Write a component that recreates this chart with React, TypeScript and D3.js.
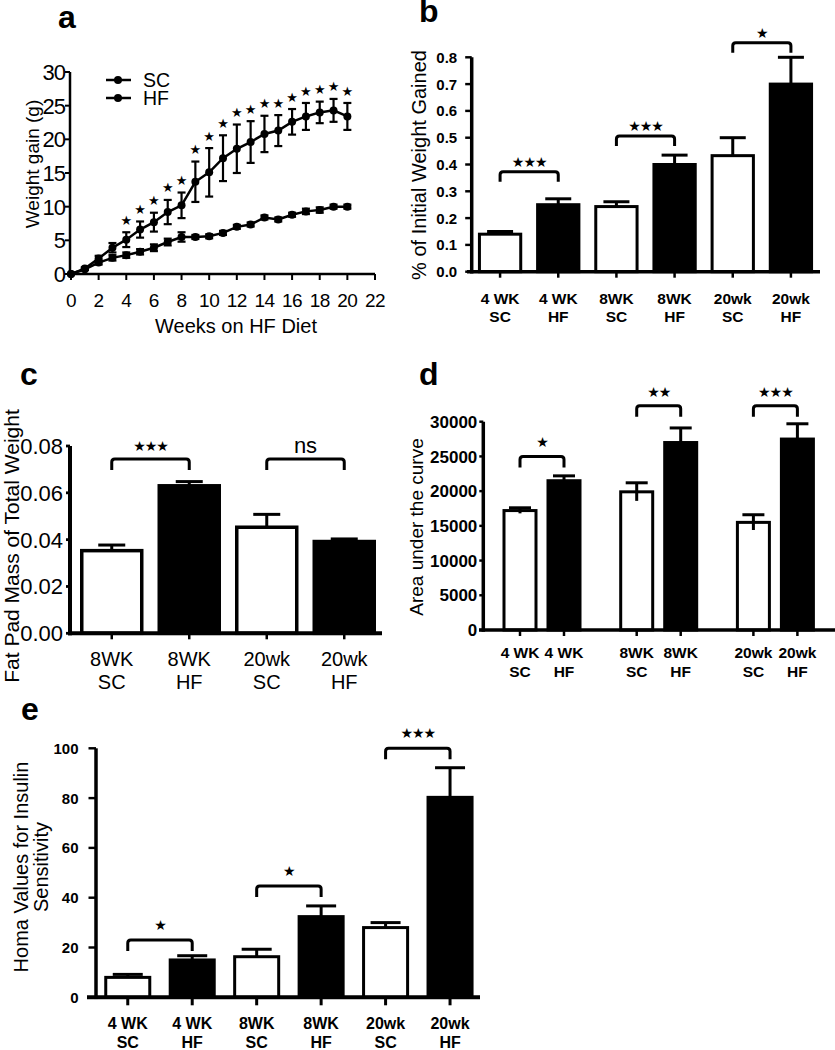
import React from "react";
import * as d3 from "d3";

const FONT = "'Liberation Sans', Arial, Helvetica, sans-serif";
const STAR_FONT = "'DejaVu Sans', sans-serif";

// ---------- Panel a data ----------
const weeks = [0, 1, 2, 3, 4, 5, 6, 7, 8, 9, 10, 11, 12, 13, 14, 15, 16, 17, 18, 19, 20];
const scMean = [0, 0.7, 1.7, 2.4, 2.8, 3.3, 3.9, 4.75, 5.5, 5.5, 5.6, 6.1, 7.0, 7.35, 8.4, 8.1, 8.8, 9.3, 9.5, 10.0, 10.0];
const scErr = [0, 0.1, 0.3, 0.4, 0.4, 0.4, 0.5, 0.5, 0.7, 0.3, 0.3, 0.3, 0.3, 0.3, 0.3, 0.3, 0.3, 0.4, 0.4, 0.3, 0.3];
const hfMean = [0, 0.8, 2.3, 3.9, 5.1, 6.6, 7.7, 9.2, 10.2, 13.7, 15.1, 17.2, 18.6, 19.6, 20.8, 21.3, 22.6, 23.4, 24.0, 24.3, 23.4];
const hfErr = [0, 0.2, 0.4, 0.7, 1.1, 1.2, 1.4, 1.8, 1.9, 3.0, 3.6, 3.4, 3.6, 3.1, 2.7, 2.3, 1.9, 2.0, 1.6, 1.7, 2.0];
const starWeeks = [4, 5, 6, 7, 8, 9, 10, 11, 12, 13, 14, 15, 16, 17, 18, 19, 20];
const aYTicks = [0, 5, 10, 15, 20, 25, 30];
const aXTicks = [0, 2, 4, 6, 8, 10, 12, 14, 16, 18, 20, 22];
const legendItems = ["SC", "HF"];

// ---------- Shared categories ----------
const sixLine1 = ["4 WK", "4 WK", "8WK", "8WK", "20wk", "20wk"];
const sixLine2 = ["SC", "HF", "SC", "HF", "SC", "HF"];

// ---------- Panel b ----------
const bValues = [0.14, 0.25, 0.243, 0.4, 0.433, 0.7];
const bErrs = [0.01, 0.022, 0.018, 0.035, 0.067, 0.1];
const bTicks = [0, 0.1, 0.2, 0.3, 0.4, 0.5, 0.6, 0.7, 0.8];
const bBrackets: [number, number, string, number][] = [
  [0, 1, "***", 0.373],
  [2, 3, "***", 0.506],
  [4, 5, "*", 0.854],
];

// ---------- Panel c ----------
const cLine1 = ["8WK", "8WK", "20wk", "20wk"];
const cLine2 = ["SC", "HF", "SC", "HF"];
const cValues = [0.0353, 0.063, 0.0453, 0.0392];
const cErrs = [0.0024, 0.0018, 0.0055, 0.0011];
const cTicks = [0, 0.02, 0.04, 0.06, 0.08];
const cBrackets: [number, number, string, number][] = [
  [0, 1, "***", 0.0744],
  [2, 3, "ns", 0.0744],
];

// ---------- Panel d ----------
const dGroups = ["4 WK", "8WK", "20wk"];
const dSub = ["SC", "HF"];
const dSC = [17200, 19900, 15500];
const dSCErr = [400, 1300, 1100];
const dHF = [21500, 27000, 27500];
const dHFErr = [700, 2100, 2200];
const dTicks = [0, 5000, 10000, 15000, 20000, 25000, 30000];
const dBrackets: [number, string, number][] = [
  [0, "*", 25000],
  [1, "**", 32300],
  [2, "***", 32300],
];

// ---------- Panel e ----------
const eValues = [8.0, 15.0, 16.3, 32.4, 28.0, 80.3];
const eErrs = [1.2, 1.7, 3.0, 4.3, 2.0, 11.9];
const eTicks = [0, 20, 40, 60, 80, 100];
const eBrackets: [number, number, string, number][] = [
  [0, 1, "*", 23],
  [2, 3, "*", 44.7],
  [4, 5, "***", 100],
];

// ---------- helpers ----------
function YAxis(props: {
  x: number; y: d3.ScaleLinear<number, number>; ticks: number[]; fmt: (n: number) => string;
  tickLen: number; gap: number; fontSize: number; bold?: boolean; sw: number; ls?: number;
}) {
  const { x, y, ticks, fmt, tickLen, gap, fontSize, bold, sw, ls } = props;
  const dom = y.domain();
  return (
    <g>
      <line x1={x} x2={x} y1={y(dom[0]) + sw / 2} y2={y(dom[1])} stroke="#000" strokeWidth={sw} />
      {ticks.map((t) => (
        <g key={t}>
          <line x1={x - tickLen} x2={x} y1={y(t)} y2={y(t)} stroke="#000" strokeWidth={Math.max(2, sw * 0.7)} />
          <text x={x - tickLen - gap} y={y(t)} dy="0.36em" textAnchor="end" fontSize={fontSize}
            letterSpacing={ls || 0} fontWeight={bold ? "bold" : "normal"}>{fmt(t)}</text>
        </g>
      ))}
    </g>
  );
}

function XLabels(props: { centers: number[]; l1: string[]; l2: string[]; b1: number; b2: number; fontSize: number; bold?: boolean; axisY: number; tickLen: number; sw: number }) {
  const { centers, l1, l2, b1, b2, fontSize, bold, axisY, tickLen, sw } = props;
  return (
    <g>
      {centers.map((c, i) => (
        <g key={i}>
          <line x1={c} x2={c} y1={axisY} y2={axisY + tickLen} stroke="#000" strokeWidth={sw} />
          <text x={c} y={b1} textAnchor="middle" fontSize={fontSize} fontWeight={bold ? "bold" : "normal"}>{l1[i]}</text>
          <text x={c} y={b2} textAnchor="middle" fontSize={fontSize} fontWeight={bold ? "bold" : "normal"}>{l2[i]}</text>
        </g>
      ))}
    </g>
  );
}

function Bars(props: {
  centers: number[]; width: number; values: number[]; errs: number[]; fills: string[];
  y: d3.ScaleLinear<number, number>; capW: number; twoSided?: boolean; sw: number;
}) {
  const { centers, width, values, errs, fills, y, capW, twoSided, sw } = props;
  const y0 = y(0);
  return (
    <g>
      {centers.map((c, i) => {
        const top = y(values[i]);
        const et = y(values[i] + errs[i]);
        const eb = twoSided ? y(values[i] - errs[i]) : top;
        return (
          <g key={i}>
            <line x1={c} x2={c} y1={et} y2={eb} stroke="#000" strokeWidth={3} />
            <line x1={c - capW / 2} x2={c + capW / 2} y1={et} y2={et} stroke="#000" strokeWidth={3} />
            {twoSided && <line x1={c - capW / 2} x2={c + capW / 2} y1={eb} y2={eb} stroke="#000" strokeWidth={3} />}
            <rect x={c - width / 2} y={top} width={width} height={y0 - top} fill={fills[i]} stroke="#000" strokeWidth={sw} />
            {twoSided && fills[i] !== "#000" && (
              <line x1={c} x2={c} y1={top} y2={eb} stroke="#000" strokeWidth={3} />
            )}
          </g>
        );
      })}
    </g>
  );
}

function Bracket(props: { x1: number; x2: number; y: number; leg: number; label: string; labelOffset: number }) {
  const { x1, x2, y, leg, label, labelOffset } = props;
  const r = 3;
  const d = `M${x1},${y + leg} L${x1},${y + r} Q${x1},${y} ${x1 + r},${y} L${x2 - r},${y} Q${x2},${y} ${x2},${y + r} L${x2},${y + leg}`;
  const isStar = label.indexOf("*") >= 0;
  return (
    <g>
      <path d={d} fill="none" stroke="#000" strokeWidth={3} />
      {isStar ? (
        <text x={(x1 + x2) / 2} y={y - labelOffset} dy="0.35em" textAnchor="middle" fontSize={14}
          fontFamily={STAR_FONT} letterSpacing={-1}>{label.replace(/\*/g, "\u2605")}</text>
      ) : (
        <text x={(x1 + x2) / 2} y={y - labelOffset} dy="0.3em" textAnchor="middle" fontSize={22}>{label}</text>
      )}
    </g>
  );
}

function PanelLetter({ x, y, t }: { x: number; y: number; t: string }) {
  return <text x={x} y={y} fontSize={32} fontWeight="bold">{t}</text>;
}

// ---------- Panel a ----------
function PanelA() {
  const x = d3.scaleLinear().domain([0, 22]).range([71, 375]);
  const y = d3.scaleLinear().domain([0, 30]).range([274, 72]);
  const line = d3.line<number>().x((_, i) => x(weeks[i])).y((d) => y(d));
  const series = [
    { name: "SC", mean: scMean, err: scErr },
    { name: "HF", mean: hfMean, err: hfErr },
  ];
  return (
    <g>
      <PanelLetter x={58} y={28} t="a" />
      <YAxis x={x(0) - 1} y={y} ticks={aYTicks} fmt={(n) => String(n)} tickLen={5} gap={0} fontSize={22} ls={-1} sw={2.5} />
      <line x1={x(0) - 1} x2={x(22)} y1={y(0)} y2={y(0)} stroke="#000" strokeWidth={2.5} />
      {aXTicks.map((t) => (
        <g key={t}>
          <line x1={x(t)} x2={x(t)} y1={y(0)} y2={y(0) + 6} stroke="#000" strokeWidth={2} />
          <text x={x(t)} y={307} textAnchor="middle" fontSize={19} letterSpacing={-0.5}>{t}</text>
        </g>
      ))}
      <text x={236} y={333} textAnchor="middle" fontSize={20}>Weeks on HF Diet</text>
      <text transform="translate(39,164) rotate(-90)" textAnchor="middle" fontSize={19}>Weight gain (g)</text>
      {series.map((s) => (
        <g key={s.name}>
          <path d={line(s.mean) || ""} fill="none" stroke="#000" strokeWidth={2.5} />
          {s.mean.map((m, i) => (
            <g key={i}>
              {s.err[i] > 0 && (
                <g>
                  <line x1={x(weeks[i])} x2={x(weeks[i])} y1={y(m + s.err[i])} y2={y(m - s.err[i])} stroke="#000" strokeWidth={2.2} />
                  <line x1={x(weeks[i]) - 4} x2={x(weeks[i]) + 4} y1={y(m + s.err[i])} y2={y(m + s.err[i])} stroke="#000" strokeWidth={2.2} />
                  <line x1={x(weeks[i]) - 4} x2={x(weeks[i]) + 4} y1={y(m - s.err[i])} y2={y(m - s.err[i])} stroke="#000" strokeWidth={2.2} />
                </g>
              )}
              <circle cx={x(weeks[i])} cy={y(m)} r={4} fill="#000" />
            </g>
          ))}
        </g>
      ))}
      {starWeeks.map((w) => (
        <text key={w} x={x(w)} y={y(hfMean[w] + hfErr[w]) - 12} dy="0.35em" textAnchor="middle"
          fontSize={13} fontFamily={STAR_FONT}>{"\u2605"}</text>
      ))}
      {legendItems.map((name, i) => {
        const ly = 80 + i * 18;
        return (
          <g key={name}>
            <line x1={106} x2={131} y1={ly} y2={ly} stroke="#000" strokeWidth={2.5} />
            <circle cx={118} cy={ly} r={4} fill="#000" />
            <text x={143} y={ly} dy="0.36em" fontSize={19.5}>{name}</text>
          </g>
        );
      })}
    </g>
  );
}

// ---------- Panel b ----------
function PanelB() {
  const xb = d3.scaleBand<number>().domain(d3.range(6)).range([471, 820]).paddingInner(0.29).paddingOuter(0.145);
  const y = d3.scaleLinear().domain([0, 0.8]).range([271.7, 57.3]);
  const centers = d3.range(6).map((i) => (xb(i) as number) + xb.bandwidth() / 2);
  const fills = sixLine2.map((s) => (s === "SC" ? "#fff" : "#000"));
  return (
    <g>
      <PanelLetter x={419} y={22} t="b" />
      <text transform="translate(426,165) rotate(-90)" textAnchor="middle" fontSize={20}>% of Initial Weight Gained</text>
      <Bars centers={centers} width={xb.bandwidth()} values={bValues} errs={bErrs} fills={fills} y={y} capW={26} sw={3} />
      <YAxis x={471.7} y={y} ticks={bTicks} fmt={d3.format(".1f")} tickLen={6.5} gap={8} fontSize={15} bold sw={3.5} />
      <line x1={467} x2={820} y1={y(0)} y2={y(0)} stroke="#000" strokeWidth={3.5} />
      <XLabels centers={centers} l1={sixLine1} l2={sixLine2} b1={304} b2={322} fontSize={15.5} bold axisY={y(0)} tickLen={6} sw={2.5} />
      {bBrackets.map(([i, j, lab, v], k) => (
        <Bracket key={k} x1={centers[i]} x2={centers[j]} y={y(v)} leg={10} label={lab} labelOffset={10} />
      ))}
    </g>
  );
}

// ---------- Panel c ----------
function PanelC() {
  const xb = d3.scaleBand<number>().domain(d3.range(4)).range([73, 383]).paddingInner(0.226).paddingOuter(0.113);
  const y = d3.scaleLinear().domain([0, 0.08]).range([633.3, 446]);
  const centers = d3.range(4).map((i) => (xb(i) as number) + xb.bandwidth() / 2);
  const fills = cLine2.map((s) => (s === "SC" ? "#fff" : "#000"));
  return (
    <g>
      <PanelLetter x={20} y={385} t="c" />
      <text transform="translate(19,546) rotate(-90)" textAnchor="middle" fontSize={21}>Fat Pad Mass of Total Weight</text>
      <Bars centers={centers} width={xb.bandwidth()} values={cValues} errs={cErrs} fills={fills} y={y} capW={27} sw={3.5} />
      <YAxis x={70} y={y} ticks={cTicks} fmt={d3.format(".2f")} tickLen={4} gap={3} fontSize={22} sw={4} />
      <line x1={68} x2={382} y1={y(0)} y2={y(0)} stroke="#000" strokeWidth={4} />
      <XLabels centers={centers} l1={cLine1} l2={cLine2} b1={666} b2={689} fontSize={20} axisY={y(0)} tickLen={6} sw={2.5} />
      {cBrackets.map(([i, j, lab, v], k) => (
        <Bracket key={k} x1={centers[i]} x2={centers[j]} y={y(v)} leg={11} label={lab} labelOffset={13} />
      ))}
    </g>
  );
}

// ---------- Panel d ----------
function PanelD() {
  const xg = d3.scaleBand<string>().domain(dGroups).range([483.65, 833.75]).padding(0);
  const xs = d3.scaleBand<string>().domain(dSub).range([0, xg.bandwidth()]).paddingInner(0.2727).paddingOuter(0.4625);
  const y = d3.scaleLinear().domain([0, 30000]).range([630, 421.7]);
  const centers: number[] = [];
  const values: number[] = [];
  const errs: number[] = [];
  const fills: string[] = [];
  const l1: string[] = [];
  const l2: string[] = [];
  dGroups.forEach((g, gi) => {
    dSub.forEach((s) => {
      centers.push((xg(g) as number) + (xs(s) as number) + xs.bandwidth() / 2);
      values.push(s === "SC" ? dSC[gi] : dHF[gi]);
      errs.push(s === "SC" ? dSCErr[gi] : dHFErr[gi]);
      fills.push(s === "SC" ? "#fff" : "#000");
      l1.push(g);
      l2.push(s);
    });
  });
  return (
    <g>
      <PanelLetter x={419} y={385} t="d" />
      <text transform="translate(423,527) rotate(-90)" textAnchor="middle" fontSize={19}>Area under the curve</text>
      <Bars centers={centers} width={xs.bandwidth()} values={values} errs={errs} fills={fills} y={y} capW={22} twoSided sw={3} />
      <YAxis x={483.3} y={y} ticks={dTicks} fmt={(n) => String(n)} tickLen={4} gap={2} fontSize={17} bold sw={3.5} />
      <line x1={479} x2={835} y1={y(0)} y2={y(0)} stroke="#000" strokeWidth={3.5} />
      <XLabels centers={centers} l1={l1} l2={l2} b1={658} b2={677} fontSize={15.5} bold axisY={y(0)} tickLen={6} sw={2.5} />
      {dBrackets.map(([g, lab, v], k) => (
        <Bracket key={k} x1={centers[g * 2]} x2={centers[g * 2 + 1]} y={y(v)} leg={11} label={lab} labelOffset={14} />
      ))}
    </g>
  );
}

// ---------- Panel e ----------
function PanelE() {
  const xb = d3.scaleBand<number>().domain(d3.range(6)).range([95.5, 482.3]).paddingInner(0.317).paddingOuter(0.159);
  const y = d3.scaleLinear().domain([0, 100]).range([997.3, 748.3]);
  const centers = d3.range(6).map((i) => (xb(i) as number) + xb.bandwidth() / 2);
  const fills = sixLine2.map((s) => (s === "SC" ? "#fff" : "#000"));
  return (
    <g>
      <PanelLetter x={21} y={720} t="e" />
      <text transform="translate(28,867) rotate(-90)" textAnchor="middle" fontSize={20}>
        <tspan x={0} y={0}>Homa Values for Insulin</tspan>
        <tspan x={0} y={20}>Sensitivity</tspan>
      </text>
      <Bars centers={centers} width={xb.bandwidth()} values={eValues} errs={eErrs} fills={fills} y={y} capW={30} sw={3} />
      <YAxis x={96} y={y} ticks={eTicks} fmt={(n) => String(n)} tickLen={7.5} gap={10} fontSize={15} bold sw={3.5} />
      <line x1={87} x2={480} y1={y(0)} y2={y(0)} stroke="#000" strokeWidth={4} />
      <XLabels centers={centers} l1={sixLine1} l2={sixLine2} b1={1029} b2={1048} fontSize={16} bold axisY={y(0)} tickLen={8} sw={3} />
      {eBrackets.map(([i, j, lab, v], k) => (
        <Bracket key={k} x1={centers[i]} x2={centers[j]} y={y(v)} leg={11} label={lab} labelOffset={15} />
      ))}
    </g>
  );
}

export default function App() {
  return (
    <div style={{ position: "absolute", left: 0, top: 0 }}>
      <svg width={835} height={1050} style={{ display: "block", background: "#fff" }} fontFamily={FONT}>
        <rect width={835} height={1050} fill="#fff" />
        <PanelA />
        <PanelB />
        <PanelC />
        <PanelD />
        <PanelE />
      </svg>
    </div>
  );
}
